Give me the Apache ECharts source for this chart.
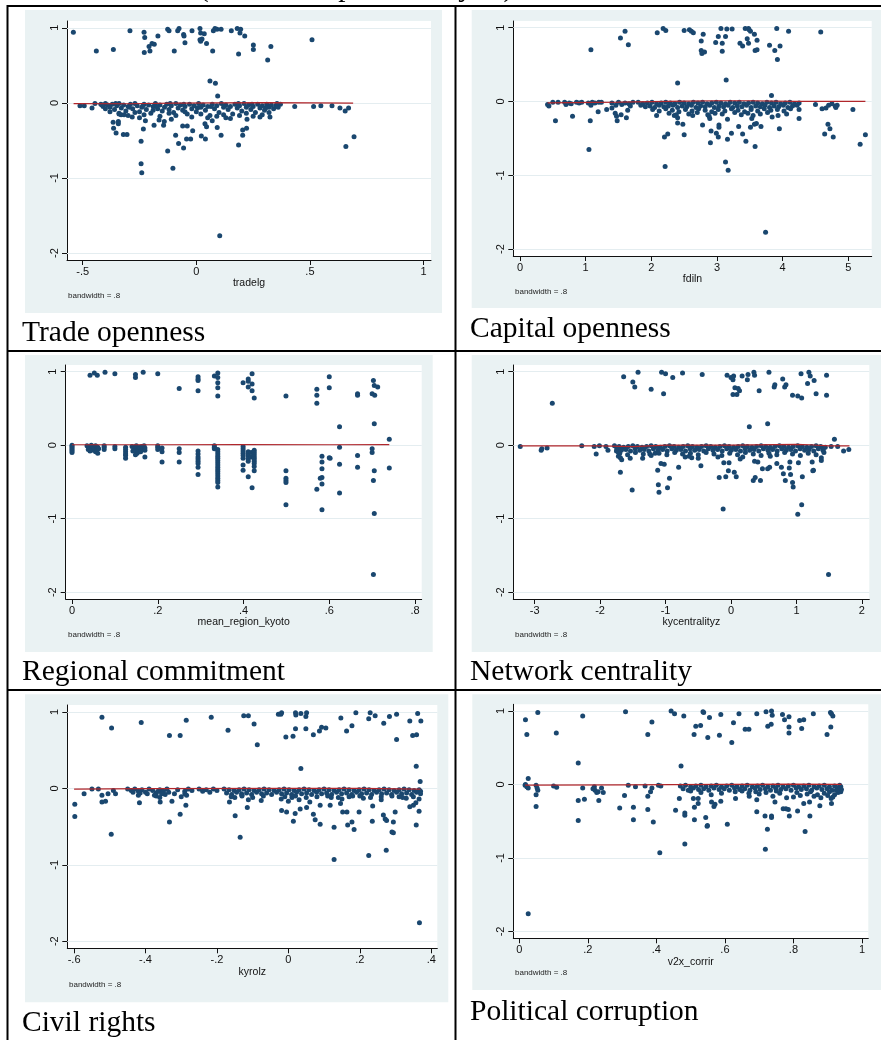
<!DOCTYPE html>
<html>
<head>
<meta charset="utf-8">
<title>Lowess residual plots</title>
<script src="https://cdn.jsdelivr.net/npm/echarts/dist/echarts.min.js"></script>
<style>
  html, body { margin: 0; padding: 0; background: #fff; }
  #c { width: 881px; height: 1040px; }
</style>
</head>
<body>
<div id="c"></div>
<script>
// ---- data: residuals against each predictor, with the lowess fit (bandwidth = .8) ----
const yTicks = [1, 0, -1, -2];
const yTickText = ['1', '0', '-1', '-2'];

const tradeTicks = [-0.5, 0, 0.5, 1];
const tradeTickText = ['-.5', '0', '.5', '1'];
const tradePts = [
  [-0.541,0.94],[-0.44,0.69],[-0.365,0.71],[-0.292,0.96],[-0.23,0.94],[-0.227,0.87],[-0.229,0.67],[-0.208,0.75],[-0.204,0.69],
  [-0.195,0.79],[-0.185,0.78],[-0.169,0.89],[-0.126,0.98],[-0.12,0.96],[-0.097,0.69],[-0.082,0.96],[-0.076,0.99],[-0.056,0.91],
  [-0.054,0.89],[-0.05,0.80],[-0.019,0.96],[0.016,0.99],[0.019,0.93],[0.019,0.82],[0.016,0.84],[0.025,0.85],[0.035,0.92],
  [0.045,0.79],[0.072,0.69],[0.075,0.96],[0.082,0.99],[0.091,0.98],[0.109,0.98],[0.154,0.96],[0.18,0.99],[0.195,0.98],
  [0.192,0.93],[0.186,0.65],[0.213,0.89],[0.251,0.77],[0.251,0.71],[0.314,0.57],[0.328,0.75],[0.509,0.84],
  [0.06,0.29],[0.084,0.26],[0.094,0.09],
  [0.694,-0.45],[0.658,-0.58],[0.655,-0.11],[0.67,-0.07],[0.632,-0.07],[0.597,-0.04],[0.548,-0.04],[0.516,-0.05],[0.433,-0.05],
  [0.324,-0.19],[0.186,-0.56],[0.204,-0.43],[0.204,-0.36],[0.221,-0.34],[0.223,-0.22],[0.109,-0.43],[0.092,-0.33],[0.04,-0.48],
  [0.022,-0.44],[0.045,-0.32],[0.038,-0.28],[-0.016,-0.37],[-0.025,-0.48],[-0.043,-0.48],[-0.04,-0.31],[-0.06,-0.31],
  [-0.056,-0.60],[-0.078,-0.54],[-0.091,-0.43],[-0.103,-0.87],[-0.126,-0.64],[-0.144,-0.30],[-0.141,-0.25],[-0.164,-0.23],
  [-0.186,-0.30],[-0.224,-0.24],[-0.233,-0.35],[-0.243,-0.51],[-0.243,-0.81],[-0.24,-0.93],[-0.282,-0.19],[-0.305,-0.42],
  [-0.321,-0.42],[-0.353,-0.40],[-0.364,-0.34],[-0.366,-0.26],[-0.343,-0.28],[-0.343,-0.25],[-0.34,-0.14],[-0.331,-0.16],
  [-0.318,-0.16],[0.103,-1.77],[-0.512,-0.04],[-0.493,-0.04],[-0.459,-0.07],[-0.446,-0.01],
  [-0.42,-0.02],[-0.41,-0.05],[-0.40,-0.01],[-0.39,-0.03],[-0.38,-0.06],[-0.37,-0.02],[-0.36,-0.09],[-0.35,-0.04],[-0.34,-0.01],
  [-0.33,-0.07],[-0.32,-0.03],[-0.31,-0.11],[-0.30,-0.05],[-0.29,-0.02],[-0.28,-0.08],[-0.27,-0.01],[-0.26,-0.04],[-0.25,-0.12],
  [-0.24,-0.06],[-0.23,-0.02],[-0.22,-0.09],[-0.21,-0.03],[-0.20,-0.14],[-0.19,-0.05],[-0.18,-0.01],[-0.17,-0.08],[-0.16,-0.03],
  [-0.15,-0.11],[-0.14,-0.06],[-0.13,-0.02],[-0.12,-0.09],[-0.11,-0.04],[-0.10,-0.13],[-0.09,-0.01],[-0.08,-0.07],[-0.07,-0.03],
  [-0.06,-0.10],[-0.05,-0.05],[-0.04,-0.15],[-0.03,-0.02],[-0.02,-0.08],[-0.01,-0.04],[0.00,-0.12],[0.01,-0.01],[0.02,-0.06],
  [0.03,-0.03],[0.04,-0.10],[0.05,-0.05],[0.06,-0.17],[0.07,-0.02],[0.08,-0.08],[0.09,-0.04],[0.10,-0.13],[0.11,-0.01],
  [0.12,-0.06],[0.13,-0.03],[0.14,-0.09],[0.15,-0.05],[0.16,-0.15],[0.17,-0.02],[0.18,-0.07],[0.19,-0.04],[0.20,-0.11],
  [0.21,-0.01],[0.22,-0.06],[0.23,-0.03],[0.24,-0.09],[0.25,-0.05],[0.26,-0.13],[0.27,-0.02],[0.28,-0.07],[0.29,-0.04],
  [0.30,-0.10],[0.31,-0.02],[0.32,-0.06],[0.33,-0.03],[0.34,-0.08],[0.35,-0.04],[0.36,-0.06],[0.37,-0.02],
  [-0.38,-0.12],[-0.34,-0.15],[-0.30,-0.17],[-0.27,-0.13],[-0.23,-0.16],[-0.19,-0.10],[-0.16,-0.18],[-0.12,-0.14],[-0.09,-0.17],
  [-0.05,-0.12],[-0.02,-0.19],[0.02,-0.15],[0.05,-0.20],[0.09,-0.18],[0.12,-0.16],[0.15,-0.21],[0.19,-0.17],[0.22,-0.14],
  [0.25,-0.18],[0.29,-0.16],[0.32,-0.13],[-0.40,-0.08],[-0.25,-0.20],[-0.11,-0.22],[0.07,-0.24],[0.13,-0.20],[0.28,-0.19],
  [-0.415,-0.03],[-0.355,-0.01],[-0.295,-0.06],[-0.235,-0.04],[-0.175,-0.05],[-0.115,-0.01],[-0.055,-0.02],[0.005,-0.07],
  [0.065,-0.05],[0.125,-0.04],[0.185,-0.01],[0.245,-0.02],[0.305,-0.07],[0.355,-0.01]
];
const tradeFit = [[-0.54,-0.01],[-0.3,-0.012],[-0.1,-0.005],[0.1,0.0],[0.3,0.003],[0.5,0.0],[0.69,-0.004]];

const capitalTicks = [0, 1, 2, 3, 4, 5];
const capitalTickText = ['0', '1', '2', '3', '4', '5'];
const capitalPts = [
  [1.08,0.70],[1.53,0.86],[1.60,0.95],[1.65,0.77],[2.09,0.93],[2.18,0.99],[2.22,0.96],[2.50,0.96],[2.58,0.97],[2.61,0.95],
  [2.64,0.93],[2.76,0.82],[2.79,0.91],[2.76,0.69],[2.77,0.65],[2.81,0.67],[2.98,0.80],[3.02,0.88],[3.06,0.99],[3.08,0.79],
  [3.08,0.68],[3.13,0.88],[3.15,0.98],[3.23,0.98],[3.35,0.79],[3.39,0.75],[3.43,0.99],[3.48,0.99],[3.51,0.95],[3.49,0.97],
  [3.46,0.85],[3.48,0.79],[3.57,0.91],[3.61,0.83],[3.58,0.69],[3.61,0.70],[3.80,0.76],[3.88,0.69],[3.91,0.99],[3.96,0.75],
  [3.92,0.57],[4.09,0.95],[4.58,0.94],
  [2.40,0.25],[3.14,0.29],[3.83,0.08],
  [0.54,-0.26],[0.80,-0.20],[1.07,-0.26],[1.05,-0.65],[1.19,-0.14],[1.48,-0.26],[1.47,-0.20],[1.45,-0.16],[1.54,-0.18],
  [1.62,-0.22],[1.64,-0.12],[1.68,-0.06],[1.32,-0.11],[1.40,-0.09],[2.08,-0.19],[2.20,-0.48],[2.25,-0.44],[2.21,-0.88],
  [2.40,-0.22],[2.40,-0.29],[2.48,-0.31],[2.50,-0.45],[2.35,-0.19],[2.38,-0.18],[2.78,-0.32],[2.89,-0.23],[2.88,-0.20],
  [2.91,-0.40],[2.90,-0.56],[2.99,-0.43],[3.02,-0.48],[3.03,-0.32],[3.03,-0.35],[3.13,-0.82],[3.17,-0.93],[3.16,-0.51],
  [3.16,-0.24],[3.22,-0.43],[3.33,-0.34],[3.39,-0.44],[3.44,-0.54],[3.51,-0.35],[3.53,-0.23],[3.57,-0.31],[3.60,-0.30],
  [3.58,-0.61],[3.67,-0.34],[3.84,-0.21],[3.93,-0.19],[3.95,-0.37],[4.25,-0.23],[4.25,-0.11],[4.50,-0.04],[4.60,-0.10],
  [4.66,-0.09],[4.64,-0.44],[4.69,-0.31],[4.72,-0.37],[4.77,-0.48],[4.80,-0.06],[4.81,-0.08],[4.70,-0.05],[4.75,-0.03],
  [4.83,-0.05],[5.07,-0.11],[5.18,-0.58],[5.26,-0.45],[3.74,-1.77],
  [0.42,-0.04],[0.44,-0.06],[0.50,-0.01],[0.58,-0.01],[0.68,-0.01],[0.70,-0.04],[0.75,-0.02],[0.78,-0.03],[0.86,-0.01],
  [0.90,-0.02],[0.94,-0.01],[1.04,-0.02],[1.08,-0.05],[1.10,-0.01],[1.14,-0.02],[1.20,-0.01],[1.24,-0.01],[1.40,-0.02],
  [1.46,-0.05],[1.50,-0.01],[1.55,-0.04],[1.60,-0.02],[1.66,-0.03],[1.72,-0.01],
  [1.80,-0.01],[1.87,-0.03],[1.94,-0.02],[2.01,-0.01],[2.08,-0.03],[2.15,-0.02],[2.22,-0.01],[2.29,-0.02],[2.36,-0.03],
  [2.43,-0.01],[2.50,-0.02],[2.57,-0.03],[2.64,-0.01],[2.71,-0.02],[2.78,-0.01],[2.85,-0.03],[2.92,-0.02],[2.99,-0.01],
  [3.06,-0.02],[3.13,-0.03],[3.20,-0.01],[3.27,-0.02],[3.34,-0.01],[3.41,-0.03],[3.48,-0.02],[3.55,-0.01],[3.62,-0.02],
  [3.69,-0.03],[3.76,-0.01],[3.83,-0.02],[3.90,-0.01],[3.97,-0.03],[4.04,-0.02],[4.11,-0.01],[4.18,-0.03],[4.25,-0.02],
  [1.84,-0.05],[1.91,-0.07],[1.98,-0.06],[2.05,-0.08],[2.12,-0.05],[2.19,-0.07],[2.26,-0.06],[2.33,-0.05],[2.40,-0.08],
  [2.47,-0.06],[2.54,-0.07],[2.61,-0.05],[2.68,-0.08],[2.75,-0.06],[2.82,-0.07],[2.89,-0.05],[2.96,-0.08],[3.03,-0.06],
  [3.10,-0.07],[3.17,-0.05],[3.24,-0.08],[3.31,-0.06],[3.38,-0.07],[3.45,-0.05],[3.52,-0.08],[3.59,-0.06],[3.66,-0.07],
  [3.73,-0.05],[3.80,-0.08],[3.87,-0.06],[3.94,-0.07],[4.01,-0.05],[4.08,-0.08],[4.15,-0.06],[4.22,-0.05],
  [2.02,-0.11],[2.12,-0.13],[2.22,-0.10],[2.32,-0.12],[2.42,-0.14],[2.52,-0.11],[2.62,-0.13],[2.72,-0.10],[2.82,-0.12],
  [2.92,-0.14],[3.02,-0.11],[3.12,-0.13],[3.22,-0.10],[3.32,-0.12],[3.42,-0.14],[3.52,-0.11],[3.62,-0.13],[3.72,-0.10],
  [3.82,-0.12],[3.92,-0.11],[4.02,-0.13],[4.12,-0.10],
  [2.27,-0.16],[2.57,-0.17],[2.70,-0.15],[2.86,-0.18],[2.97,-0.16],[3.08,-0.17],[3.27,-0.15],[3.37,-0.18],[3.47,-0.16],
  [3.66,-0.17],[3.77,-0.15],[4.06,-0.17],[2.63,-0.19],[3.55,-0.19]
];
const capitalFit = [[0.42,-0.02],[1.5,-0.01],[2.5,0.005],[3.0,0.01],[3.5,0.01],[4.2,0.0],[5.26,0.0]];

const regionTicks = [0, 0.2, 0.4, 0.6, 0.8];
const regionTickText = ['0', '.2', '.4', '.6', '.8'];
const regionPts = [
  [0.042,0.95],[0.052,0.98],[0.059,0.95],[0.077,0.99],[0.10,0.97],[0.148,0.96],[0.148,0.92],[0.166,0.99],[0.20,0.97],
  [0.25,0.77],[0.294,0.93],[0.294,0.90],[0.294,0.88],[0.294,0.74],[0.332,0.94],[0.34,0.98],[0.34,0.92],[0.34,0.85],
  [0.34,0.78],[0.34,0.67],[0.399,0.85],[0.411,0.90],[0.411,0.87],[0.411,0.79],[0.42,0.97],[0.42,0.83],[0.42,0.74],
  [0.425,0.64],[0.499,0.67],[0.571,0.76],[0.571,0.68],[0.571,0.57],[0.60,0.93],[0.60,0.78],[0.666,0.70],[0.666,0.68],
  [0.703,0.88],[0.70,0.70],[0.706,0.68],[0.705,0.81],[0.713,0.79],
  [0.624,0.25],[0.705,0.29],[0.74,0.08],
  [0,0],[0,-0.02],[0,-0.04],[0,-0.06],[0,-0.08],[0,-0.10],
  [0.035,-0.01],[0.04,-0.03],[0.045,0],[0.045,-0.05],[0.048,-0.02],[0.05,-0.07],[0.052,-0.04],[0.055,-0.01],[0.055,-0.09],
  [0.058,-0.06],[0.06,-0.03],[0.06,-0.11],[0.062,-0.05],[0.038,-0.06],[0.042,-0.08],
  [0.075,-0.01],[0.075,-0.03],[0.075,-0.06],[0.10,-0.02],[0.10,-0.05],
  [0.125,-0.03],[0.125,-0.06],[0.125,-0.09],[0.125,-0.12],[0.125,-0.14],[0.125,-0.18],
  [0.14,-0.02],[0.145,-0.05],[0.15,-0.01],[0.15,-0.04],[0.15,-0.08],[0.152,-0.11],[0.155,-0.06],[0.158,-0.03],[0.16,-0.09],
  [0.162,-0.02],[0.165,-0.05],[0.168,-0.01],[0.17,-0.04],[0.17,-0.07],[0.17,-0.16],[0.148,-0.13],[0.142,-0.08],
  [0.2,-0.01],[0.2,-0.03],[0.2,-0.06],[0.21,-0.04],[0.21,-0.09],[0.21,-0.23],
  [0.25,-0.05],[0.25,-0.10],[0.25,-0.23],
  [0.294,-0.08],[0.294,-0.12],[0.294,-0.16],[0.294,-0.19],[0.294,-0.22],[0.294,-0.25],[0.294,-0.30],[0.294,-0.40],
  [0.332,-0.01],[0.332,-0.03],[0.332,-0.05],
  [0.34,-0.06],[0.34,-0.09],[0.34,-0.12],[0.34,-0.15],[0.34,-0.18],[0.34,-0.21],[0.34,-0.24],[0.34,-0.27],[0.34,-0.30],
  [0.34,-0.33],[0.34,-0.36],[0.34,-0.39],[0.34,-0.42],[0.34,-0.45],[0.34,-0.48],[0.34,-0.51],[0.34,-0.57],
  [0.399,-0.02],[0.399,-0.05],[0.399,-0.08],[0.399,-0.11],[0.399,-0.14],[0.399,-0.18],[0.399,-0.27],[0.399,-0.34],
  [0.411,-0.09],[0.411,-0.12],[0.411,-0.15],[0.411,-0.19],[0.411,-0.22],[0.411,-0.43],
  [0.42,-0.58],[0.418,-0.10],[0.418,-0.16],
  [0.425,-0.07],[0.425,-0.10],[0.425,-0.13],[0.425,-0.16],[0.425,-0.19],[0.425,-0.22],[0.425,-0.25],[0.425,-0.29],[0.425,-0.35],
  [0.499,-0.35],[0.499,-0.45],[0.499,-0.48],[0.499,-0.51],[0.499,-0.81],
  [0.571,-0.60],[0.583,-0.15],[0.583,-0.23],[0.583,-0.32],[0.583,-0.44],[0.579,-0.45],[0.583,-0.53],[0.583,-0.88],
  [0.60,-0.17],[0.602,-0.18],[0.624,-0.03],[0.624,-0.26],[0.624,-0.65],[0.666,-0.14],[0.666,-0.30],
  [0.70,-0.05],[0.70,-0.10],[0.705,-0.35],[0.703,-0.48],[0.705,-0.93],[0.703,-1.76],[0.74,-0.31]
];
const regionFit = [[0,0.005],[0.2,0.005],[0.4,0.008],[0.6,0.005],[0.74,0.008]];

const centralTicks = [-3, -2, -1, 0, 1, 2];
const centralTickText = ['-3', '-2', '-1', '0', '1', '2'];
const centralPts = [
  [-2.73,0.57],[-1.64,0.93],[-1.50,0.86],[-1.47,0.79],[-1.42,0.99],[-1.22,0.76],[-1.06,0.99],[-1.00,0.97],[-1.03,0.70],
  [-0.89,0.92],[-0.74,0.98],[-0.44,0.96],[-0.06,0.95],[0.0,0.92],[0.03,0.89],[0.04,0.94],[0.03,0.69],[0.09,0.69],
  [0.06,0.78],[0.11,0.77],[0.13,0.74],[0.17,0.94],[0.25,0.89],[0.26,0.96],[0.35,0.99],[0.36,0.95],[0.43,0.74],[0.58,0.99],
  [0.66,0.79],[0.67,0.82],[0.79,0.90],[0.82,0.79],[0.84,0.82],[0.94,0.68],[1.02,0.67],[1.08,0.64],[1.07,0.97],[1.19,0.99],
  [1.21,0.94],[1.17,0.84],[1.27,0.88],[1.30,0.70],[1.46,0.95],[1.46,0.68],
  [0.28,0.25],[0.56,0.29],[1.58,0.08],
  [-3.22,-0.02],[-2.90,-0.07],[-2.89,-0.05],[-2.81,-0.04],[-2.28,-0.01],[-2.09,-0.02],[-2.06,-0.12],[-2.01,-0.01],
  [-1.91,-0.02],[-1.88,-0.07],[-1.69,-0.37],[-1.51,-0.61],[-1.67,-0.20],[-1.69,-0.17],[-1.72,-0.15],[-1.35,-0.18],
  [-1.12,-0.34],[-1.11,-0.54],[-1.10,-0.64],[-1.07,-0.25],[-1.02,-0.26],[-0.94,-0.45],[-0.97,-0.58],[-0.80,-0.30],
  [-0.60,-0.17],[-0.46,-0.28],[-0.50,-0.18],[-0.18,-0.44],[-0.12,-0.87],[-0.08,-0.43],[-0.04,-0.35],[-0.03,-0.24],
  [-0.11,-0.24],[0.05,-0.37],[0.08,-0.43],[0.14,-0.19],[0.34,-0.48],[0.37,-0.44],[0.45,-0.48],[0.36,-0.22],[0.41,-0.23],
  [0.48,-0.32],[0.56,-0.32],[0.59,-0.30],[0.70,-0.25],[0.77,-0.30],[0.80,-0.39],[0.83,-0.48],[0.91,-0.40],[0.94,-0.51],
  [0.95,-0.57],[0.90,-0.23],[0.89,-0.31],[1.03,-0.24],[1.09,-0.43],[1.08,-0.81],[1.02,-0.94],[1.26,-0.34],[1.25,-0.35],
  [1.24,-0.23],[1.38,-0.21],[1.38,-0.17],[1.41,-0.05],[1.53,-0.02],[1.63,-0.02],[1.72,-0.08],[1.80,-0.06],[1.49,-1.76],
  [-1.54,-0.18],[-1.24,-0.12],[-1.16,-0.11],[-0.70,-0.16],[-0.64,-0.15],[-0.20,-0.16],[0.18,-0.16],[0.60,-0.15],
  [-1.78,-0.01],[-1.71,-0.02],[-1.64,-0.03],[-1.57,-0.02],[-1.50,-0.01],[-1.43,-0.02],[-1.36,-0.03],[-1.29,-0.02],
  [-1.22,-0.01],[-1.15,-0.02],[-1.08,-0.03],[-1.01,-0.02],[-0.94,-0.01],[-0.87,-0.02],[-0.80,-0.03],[-0.73,-0.02],
  [-0.66,-0.01],[-0.59,-0.02],[-0.52,-0.03],[-0.45,-0.02],[-0.38,-0.01],[-0.31,-0.02],[-0.24,-0.03],[-0.17,-0.02],
  [-0.10,-0.01],[-0.03,-0.02],[0.04,-0.03],[0.11,-0.02],[0.18,-0.01],[0.25,-0.02],[0.32,-0.03],[0.39,-0.02],[0.46,-0.01],
  [0.53,-0.02],[0.60,-0.03],[0.67,-0.02],[0.74,-0.01],[0.81,-0.02],[0.88,-0.03],[0.95,-0.02],[1.02,-0.01],[1.09,-0.02],
  [1.16,-0.03],[1.23,-0.02],[1.30,-0.01],[1.37,-0.02],[1.44,-0.03],
  [-1.745,-0.05],[-1.675,-0.07],[-1.605,-0.06],[-1.535,-0.08],[-1.465,-0.05],[-1.395,-0.07],[-1.325,-0.06],[-1.255,-0.08],
  [-1.185,-0.05],[-1.115,-0.07],[-1.045,-0.06],[-0.975,-0.08],[-0.905,-0.05],[-0.835,-0.07],[-0.765,-0.06],[-0.695,-0.08],
  [-0.625,-0.05],[-0.555,-0.07],[-0.485,-0.06],[-0.415,-0.08],[-0.345,-0.05],[-0.275,-0.07],[-0.205,-0.06],[-0.135,-0.08],
  [-0.065,-0.05],[0.005,-0.07],[0.075,-0.06],[0.145,-0.08],[0.215,-0.05],[0.285,-0.07],[0.355,-0.06],[0.425,-0.08],
  [0.495,-0.05],[0.565,-0.07],[0.635,-0.06],[0.705,-0.08],[0.775,-0.05],[0.845,-0.07],[0.915,-0.06],[0.985,-0.08],
  [1.055,-0.05],[1.125,-0.07],[1.195,-0.06],[1.265,-0.08],[1.335,-0.05],[1.405,-0.07],
  [-1.70,-0.11],[-1.58,-0.13],[-1.46,-0.10],[-1.34,-0.12],[-1.22,-0.14],[-1.10,-0.11],[-0.98,-0.13],[-0.86,-0.10],
  [-0.74,-0.12],[-0.62,-0.11],[-0.50,-0.13],[-0.38,-0.10],[-0.26,-0.12],[-0.14,-0.14],[-0.02,-0.11],[0.10,-0.13],
  [0.22,-0.10],[0.34,-0.12],[0.46,-0.14],[0.58,-0.11],[0.70,-0.13],[0.82,-0.10],[0.94,-0.12],[1.06,-0.14],[1.18,-0.11],
  [1.30,-0.13],[1.42,-0.10],[-1.75,-0.08],[-1.72,-0.10],[-1.68,-0.06]
];
const centralFit = [[-3.22,-0.01],[-2,-0.01],[-1.5,-0.02],[-1,0.0],[0,0.0],[1,0.01],[1.2,0.005],[1.5,-0.01],[1.81,-0.01]];

const rightsTicks = [-0.6, -0.4, -0.2, 0, 0.2, 0.4];
const rightsTickText = ['-.6', '-.4', '-.2', '0', '.2', '.4'];
const rightsPts = [
  [-0.522,0.93],[-0.495,0.79],[-0.412,0.86],[-0.333,0.69],[-0.303,0.69],[-0.286,0.89],[-0.216,0.93],[-0.169,0.76],
  [-0.125,0.95],[-0.112,0.95],[-0.096,0.84],[-0.087,0.57],[-0.028,0.97],[-0.021,0.97],[-0.019,0.99],[-0.007,0.67],
  [0.013,0.68],[0.020,0.78],[0.020,0.99],[0.021,0.96],[0.035,0.98],[0.049,0.94],[0.051,0.99],[0.049,0.78],[0.07,0.70],
  [0.087,0.75],[0.093,0.80],[0.105,0.79],[0.147,0.92],[0.163,0.75],[0.178,0.82],[0.189,0.99],[0.225,0.91],[0.229,0.99],
  [0.243,0.95],[0.267,0.85],[0.283,0.94],[0.303,0.97],[0.303,0.64],[0.34,0.88],[0.348,0.69],[0.359,0.70],[0.362,0.98],
  [0.371,0.88],
  [0.035,0.26],[0.358,0.29],[0.369,0.09],
  [-0.598,-0.21],[-0.598,-0.37],[-0.572,-0.07],[-0.55,-0.01],[-0.532,-0.01],[-0.522,-0.09],[-0.522,-0.18],[-0.512,-0.17],
  [-0.505,-0.07],[-0.496,-0.60],[-0.49,-0.03],[-0.484,-0.07],[-0.417,-0.19],[-0.359,-0.18],[-0.333,-0.44],[-0.326,-0.17],
  [-0.319,-0.07],[-0.303,-0.34],[-0.287,-0.22],[-0.30,-0.11],[-0.285,-0.09],[-0.165,-0.18],[-0.149,-0.36],[-0.135,-0.64],
  [-0.115,-0.25],[-0.112,-0.15],[-0.076,-0.16],[-0.019,-0.29],[-0.005,-0.31],[0.014,-0.43],[0.019,-0.33],[0.033,-0.27],
  [0.051,-0.25],[0.07,-0.34],[0.075,-0.41],[0.089,-0.47],[0.089,-0.22],[0.117,-0.22],[0.128,-0.51],[0.128,-0.93],
  [0.146,-0.20],[0.152,-0.31],[0.164,-0.31],[0.166,-0.48],[0.178,-0.44],[0.184,-0.54],[0.198,-0.31],[0.225,-0.88],
  [0.235,-0.43],[0.236,-0.23],[0.266,-0.35],[0.271,-0.40],[0.275,-0.42],[0.274,-0.81],[0.29,-0.57],[0.294,-0.58],
  [0.294,-0.44],[0.299,-0.31],[0.34,-0.24],[0.35,-0.22],[0.358,-0.48],[0.357,-0.19],[0.366,-0.30],[0.366,-0.14],[0.367,-1.76],
  [-0.02,-0.14],[0.0,-0.17],[0.01,-0.12],[0.03,-0.15],[0.06,-0.18],[0.12,-0.12],[0.15,-0.14],[0.18,-0.10],[0.21,-0.13],
  [0.26,-0.15],[0.31,-0.11],[0.33,-0.13],[-0.15,-0.12],[-0.13,-0.09],[-0.37,-0.10],[-0.36,-0.12],[-0.42,-0.09],
  [-0.45,-0.01],[-0.44,-0.03],[-0.43,-0.01],[-0.42,-0.04],[-0.41,-0.02],[-0.40,-0.05],[-0.39,-0.01],[-0.38,-0.03],
  [-0.37,-0.06],[-0.36,-0.02],[-0.35,-0.04],[-0.345,-0.08],[-0.34,-0.01],[-0.335,-0.05],[-0.395,-0.07],[-0.375,-0.09],
  [-0.355,-0.07],[-0.365,-0.04],[-0.415,-0.06],[-0.435,-0.05],
  [-0.31,-0.02],[-0.29,-0.04],[-0.28,-0.01],[-0.27,-0.03],[-0.25,-0.01],[-0.24,-0.04],[-0.23,-0.02],[-0.22,-0.05],
  [-0.21,-0.01],[-0.20,-0.03],[-0.29,-0.07],
  [-0.18,-0.01],[-0.166,-0.02],[-0.152,-0.03],[-0.138,-0.02],[-0.124,-0.01],[-0.11,-0.02],[-0.096,-0.03],[-0.082,-0.02],
  [-0.068,-0.01],[-0.054,-0.02],[-0.04,-0.03],[-0.026,-0.02],[-0.012,-0.01],[0.002,-0.02],[0.016,-0.03],[0.03,-0.02],
  [0.044,-0.01],[0.058,-0.02],[0.072,-0.03],[0.086,-0.02],[0.10,-0.01],[0.114,-0.02],[0.128,-0.03],[0.142,-0.02],
  [0.156,-0.01],[0.17,-0.02],[0.184,-0.03],[0.198,-0.02],[0.212,-0.01],[0.226,-0.02],[0.24,-0.03],[0.254,-0.02],
  [0.268,-0.01],[0.282,-0.02],[0.296,-0.03],[0.31,-0.02],[0.324,-0.01],[0.338,-0.02],[0.352,-0.03],[0.366,-0.02],
  [-0.173,-0.06],[-0.159,-0.08],[-0.145,-0.05],[-0.131,-0.07],[-0.117,-0.06],[-0.103,-0.08],[-0.089,-0.05],[-0.075,-0.07],
  [-0.061,-0.06],[-0.047,-0.08],[-0.033,-0.05],[-0.019,-0.07],[-0.005,-0.06],[0.009,-0.08],[0.023,-0.05],[0.037,-0.07],
  [0.051,-0.06],[0.065,-0.08],[0.079,-0.05],[0.093,-0.07],[0.107,-0.06],[0.121,-0.08],[0.135,-0.05],[0.149,-0.07],
  [0.163,-0.06],[0.177,-0.08],[0.191,-0.05],[0.205,-0.07],[0.219,-0.06],[0.233,-0.08],[0.247,-0.05],[0.261,-0.07],
  [0.275,-0.06],[0.289,-0.08],[0.303,-0.05],[0.317,-0.07],[0.331,-0.06],[0.345,-0.08],[0.359,-0.05],[0.37,-0.07],
  [-0.16,-0.11],[-0.13,-0.10],[-0.10,-0.12],[-0.07,-0.10],[-0.01,-0.11],[0.02,-0.10],[0.05,-0.12],[0.08,-0.11],
  [0.11,-0.10],[0.14,-0.12],[0.17,-0.11],[0.20,-0.10],[0.23,-0.12],[0.26,-0.11],[0.29,-0.10],[0.32,-0.12],[0.35,-0.11],
  [0.37,-0.04]
];
const rightsFit = [[-0.6,-0.01],[-0.4,-0.005],[0,0.0],[0.2,-0.002],[0.37,-0.01]];

const corruptTicks = [0, 0.2, 0.4, 0.6, 0.8, 1];
const corruptTickText = ['0', '.2', '.4', '.6', '.8', '1'];
const corruptPts = [
  [0.018,0.88],[0.022,0.68],[0.054,0.98],[0.108,0.70],[0.185,0.93],[0.31,0.99],[0.387,0.85],[0.375,0.68],[0.443,1.0],
  [0.453,0.96],[0.48,0.93],[0.51,0.68],[0.515,0.79],[0.529,0.80],[0.536,0.99],[0.538,0.98],[0.55,0.64],[0.555,0.91],
  [0.584,0.67],[0.588,0.95],[0.62,0.57],[0.625,0.84],[0.641,0.96],[0.659,0.75],[0.67,0.75],[0.693,0.96],[0.72,0.99],
  [0.725,0.79],[0.736,1.0],[0.738,0.94],[0.735,0.82],[0.768,0.95],[0.774,0.88],[0.787,0.92],[0.787,0.78],[0.787,0.70],
  [0.818,0.87],[0.83,0.88],[0.824,0.76],[0.858,0.96],[0.898,0.68],[0.908,0.98],[0.911,0.96],[0.915,0.93],[0.909,0.78],
  [0.026,0.08],[0.172,0.29],[0.472,0.25],
  [0.017,-0.01],[0.022,-0.03],[0.026,-0.05],[0.018,0.0],[0.049,-0.01],[0.052,-0.05],[0.054,-0.08],[0.049,-0.14],
  [0.049,-0.30],[0.10,-0.02],[0.109,-0.04],[0.172,-0.22],[0.172,-0.49],[0.185,-0.05],[0.19,-0.20],[0.219,-0.03],
  [0.221,-0.08],[0.226,-0.11],[0.232,-0.22],[0.24,-0.05],[0.245,-0.11],[0.215,-0.06],[0.23,-0.10],[0.293,-0.32],
  [0.307,-0.15],[0.318,-0.01],[0.333,-0.31],[0.333,-0.48],[0.339,-0.03],[0.367,-0.02],[0.375,-0.16],[0.375,-0.34],
  [0.383,-0.10],[0.387,-0.05],[0.391,-0.51],[0.406,-0.01],[0.413,-0.02],[0.41,-0.93],[0.456,-0.35],[0.467,-0.19],
  [0.483,-0.39],[0.483,-0.42],[0.483,-0.81],[0.508,-0.19],[0.511,-0.31],[0.511,-0.48],[0.522,-0.26],[0.522,-0.19],
  [0.544,-0.45],[0.548,-0.57],[0.549,-0.56],[0.561,-0.24],[0.568,-0.30],[0.571,-0.27],[0.588,-0.23],[0.607,-0.54],
  [0.631,-0.19],[0.671,-0.16],[0.693,-0.21],[0.693,-0.37],[0.717,-0.43],[0.718,-0.88],[0.724,-0.61],[0.736,-0.43],
  [0.736,-0.45],[0.746,-0.24],[0.77,-0.33],[0.778,-0.33],[0.785,-0.34],[0.788,-0.43],[0.812,-0.36],[0.83,-0.26],
  [0.834,-0.64],[0.848,-0.43],[0.847,-0.24],[0.877,-0.29],[0.911,-0.26],[0.938,-0.03],[0.938,-0.10],[0.026,-1.76],
  [0.47,-0.02],[0.485,-0.01],[0.50,-0.03],[0.515,-0.02],[0.53,-0.01],[0.545,-0.03],[0.56,-0.02],[0.575,-0.01],
  [0.59,-0.03],[0.605,-0.02],[0.62,-0.01],[0.635,-0.03],[0.65,-0.02],[0.665,-0.01],[0.68,-0.03],[0.695,-0.02],
  [0.71,-0.01],[0.725,-0.03],[0.74,-0.02],[0.755,-0.01],[0.77,-0.03],[0.785,-0.02],[0.80,-0.01],[0.815,-0.03],
  [0.83,-0.02],[0.845,-0.01],[0.86,-0.03],[0.875,-0.02],[0.89,-0.01],[0.905,-0.03],[0.92,-0.02],[0.935,-0.01],
  [0.478,-0.06],[0.493,-0.08],[0.508,-0.05],[0.523,-0.07],[0.538,-0.06],[0.553,-0.08],[0.568,-0.05],[0.583,-0.07],
  [0.598,-0.06],[0.613,-0.08],[0.628,-0.05],[0.643,-0.07],[0.658,-0.06],[0.673,-0.08],[0.688,-0.05],[0.703,-0.07],
  [0.718,-0.06],[0.733,-0.08],[0.748,-0.05],[0.763,-0.07],[0.778,-0.06],[0.793,-0.08],[0.808,-0.05],[0.823,-0.07],
  [0.838,-0.06],[0.853,-0.08],[0.868,-0.05],[0.883,-0.07],[0.898,-0.06],[0.913,-0.08],[0.928,-0.05],[0.94,-0.07],
  [0.86,-0.16],[0.88,-0.18],[0.90,-0.15],[0.91,-0.19],[0.915,-0.17],[0.92,-0.14],[0.89,-0.12],[0.87,-0.14],[0.84,-0.13],
  [0.82,-0.15],[0.80,-0.17],[0.78,-0.18],[0.76,-0.12],[0.74,-0.16],[0.72,-0.11],[0.70,-0.13],[0.67,-0.12],[0.63,-0.10],
  [0.59,-0.12],[0.56,-0.14],[0.53,-0.11],[0.50,-0.09],[0.93,-0.11],[0.925,-0.08],[0.905,-0.10],[0.85,-0.10],[0.81,-0.11],
  [0.75,-0.09],[0.69,-0.10],[0.65,-0.09]
];
const corruptFit = [[0.017,-0.01],[0.3,-0.005],[0.6,0.0],[0.8,0.005],[0.94,0.0]];

const axisTitles = ['tradelg', 'fdiln', 'mean_region_kyoto', 'kycentralityz', 'kyrolz', 'v2x_corrir'];
const captions = ['Trade openness', 'Capital openness', 'Regional commitment', 'Network centrality', 'Civil rights', 'Political corruption'];
const noteText = 'bandwidth = .8';
const headText = '(Observed spatial analysis)';

// ---- layout: one table cell per panel ----
const panels = [
  { pts: tradePts,   fit: tradeFit,   ticks: tradeTicks,   tickText: tradeTickText,
    grid: [67, 21, 364, 239],      xr: [-0.569, 1.0326],  bg: [25, 10, 417, 303],       note: [68, 296],  cap: [22, 343] },
  { pts: capitalPts, fit: capitalFit, ticks: capitalTicks, tickText: capitalTickText,
    grid: [513.3, 21, 358.4, 235], xr: [-0.102, 5.356],   bg: [471.7, 10, 409.3, 298],  note: [515, 292], cap: [470, 339] },
  { pts: regionPts,  fit: regionFit,  ticks: regionTicks,  tickText: regionTickText,
    grid: [65.7, 365, 356, 234],   xr: [-0.0147, 0.8156], bg: [25, 355, 407.7, 297],    note: [68, 635],  cap: [22, 682] },
  { pts: centralPts, fit: centralFit, ticks: centralTicks, tickText: centralTickText,
    grid: [513.3, 365, 356, 234],  xr: [-3.326, 2.113],   bg: [471.7, 355, 409.3, 297], note: [515, 635], cap: [470, 682] },
  { pts: rightsPts,  fit: rightsFit,  ticks: rightsTicks,  tickText: rightsTickText,
    grid: [67.3, 705, 370, 243.3], xr: [-0.619, 0.417],   bg: [25, 694.3, 423.3, 308],  note: [69, 985],  cap: [22, 1033] },
  { pts: corruptPts, fit: corruptFit, ticks: corruptTicks, tickText: corruptTickText,
    grid: [513.3, 704.3, 355, 234],xr: [-0.0175, 1.0184], bg: [472.3, 694.3, 408.7, 295.7], note: [515, 973], cap: [470, 1022] }
];
const Y_RANGE = [-2.093, 1.09];

const SANS = '"Liberation Sans", Arial, sans-serif';
const SERIF = '"Liberation Serif", "Times New Roman", serif';
const DOT = '#1a476f';
const FIT = '#b0262b';
const REGION = '#eaf2f3';
const GRIDLINE = '#e4edf0';
const INK = '#111';

function tickLabel(values, texts) {
  return function (v) {
    for (let k = 0; k < values.length; k++) {
      if (Math.abs(values[k] - v) < 1e-9) return texts[k];
    }
    return '';
  };
}

const grids = [], xAxes = [], yAxes = [], series = [], graphics = [];

panels.forEach(function (p, i) {
  const [gl, gt, gw, gh] = p.grid;
  grids.push({ left: gl, top: gt, width: gw, height: gh, containLabel: false, outerBoundsMode: 'none', show: false });

  // graph region and plot region backgrounds
  graphics.push({ type: 'rect', z: -100, silent: true,
    shape: { x: p.bg[0], y: p.bg[1], width: p.bg[2], height: p.bg[3] }, style: { fill: REGION } });
  graphics.push({ type: 'rect', z: -99, silent: true,
    shape: { x: gl, y: gt, width: gw, height: gh }, style: { fill: '#ffffff' } });

  xAxes.push({
    gridIndex: i, type: 'value', min: p.xr[0], max: p.xr[1], position: 'bottom',
    axisLine: { show: true, onZero: false, lineStyle: { color: INK, width: 1 } },
    axisTick: { show: true, inside: false, length: 5, customValues: p.ticks, lineStyle: { color: INK, width: 1 } },
    axisLabel: { show: true, customValues: p.ticks, formatter: tickLabel(p.ticks, p.tickText),
      fontFamily: SANS, fontSize: 11, color: INK, margin: 6 },
    splitLine: { show: false },
    name: axisTitles[i], nameLocation: 'middle', nameGap: 18, nameMoveOverlap: false,
    nameTextStyle: { fontFamily: SANS, fontSize: 10.5, color: INK }
  });
  yAxes.push({
    gridIndex: i, type: 'value', min: Y_RANGE[0], max: Y_RANGE[1], position: 'left',
    axisLine: { show: true, onZero: false, lineStyle: { color: INK, width: 1 } },
    axisTick: { show: true, inside: false, length: 5, customValues: yTicks, lineStyle: { color: INK, width: 1 } },
    axisLabel: { show: true, customValues: yTicks, formatter: tickLabel(yTicks, yTickText), rotate: 90,
      fontFamily: SANS, fontSize: 11, color: INK, margin: 7 },
    splitLine: { show: false }
  });

  // horizontal grid lines at the y ticks, kept beneath the points
  series.push({
    type: 'line', xAxisIndex: i, yAxisIndex: i, data: [], z: 1, silent: true, animation: false,
    markLine: { z: 1, silent: true, animation: false, symbol: ['none', 'none'], label: { show: false },
      lineStyle: { color: GRIDLINE, width: 1, type: 'solid' },
      emphasis: { disabled: true },
      data: yTicks.map(function (v) { return { yAxis: v }; }) }
  });
  // residual points
  series.push({
    type: 'scatter', xAxisIndex: i, yAxisIndex: i, data: p.pts, z: 4, silent: true, animation: false,
    symbol: 'circle', symbolSize: 5, itemStyle: { color: DOT, opacity: 1 }
  });
  // lowess smoother
  series.push({
    type: 'line', xAxisIndex: i, yAxisIndex: i, data: p.fit, z: 6, silent: true, animation: false,
    showSymbol: false, smooth: false, lineStyle: { color: FIT, width: 1.2 }
  });

  // bandwidth note and cell caption
  graphics.push({ type: 'text', z: 100, silent: true,
    style: { text: noteText, x: p.note[0], y: p.note[1], font: '8px ' + SANS, fill: '#222',
      align: 'left', verticalAlign: 'middle' } });
  graphics.push({ type: 'text', z: 100, silent: true,
    style: { text: captions[i], x: p.cap[0], y: p.cap[1] - 10, font: '29.5px ' + SERIF, fill: '#000',
      align: 'left', verticalAlign: 'middle' } });
});

// heading line above the table (only its lower edge falls inside the page)
graphics.push({ type: 'text', z: 100, silent: true,
  style: { text: headText, x: 356, y: -12, font: '29px ' + SERIF, fill: '#000', align: 'center', verticalAlign: 'middle' } });

// table rules
const rule = { stroke: '#000', lineWidth: 2 };
[[7, 6, 881, 6], [7, 351, 881, 351], [7, 690, 881, 690], [7.5, 5, 7.5, 1040], [455.5, 5, 455.5, 1040]]
  .forEach(function (s) {
    graphics.push({ type: 'line', z: 110, silent: true,
      shape: { x1: s[0], y1: s[1], x2: s[2], y2: s[3] }, style: rule });
  });

const chart = echarts.init(document.getElementById('c'), null, { renderer: 'canvas', width: 881, height: 1040 });
chart.setOption({
  animation: false,
  backgroundColor: '#ffffff',
  grid: grids,
  xAxis: xAxes,
  yAxis: yAxes,
  series: series,
  graphic: { elements: graphics }
});
</script>
</body>
</html>
